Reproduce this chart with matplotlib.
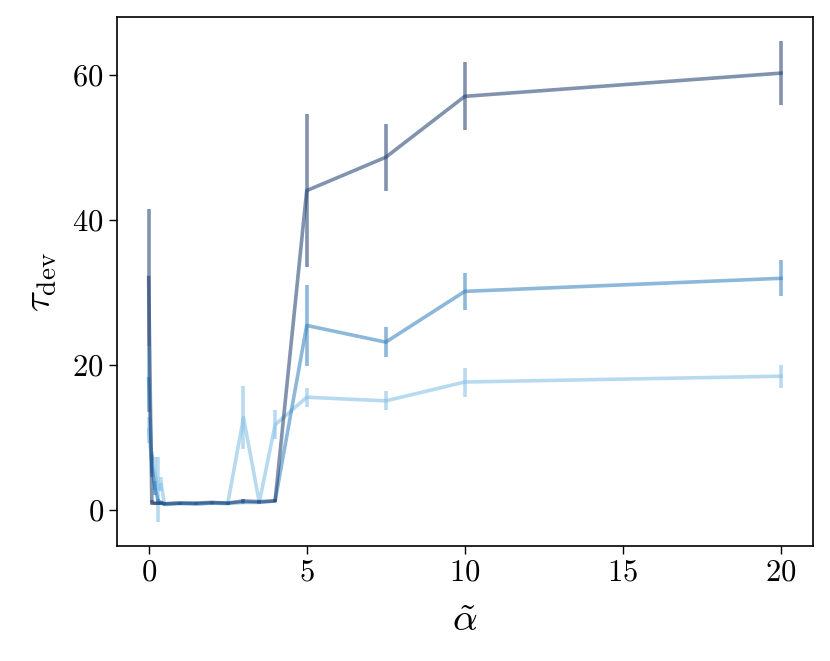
import matplotlib
matplotlib.use("Agg")
from matplotlib import pyplot as plt

plt.rcParams['font.family'] = 'serif'
plt.rcParams['font.serif'] = ['cmr10']
plt.rcParams['mathtext.fontset'] = 'cm'
plt.rcParams['axes.formatter.use_mathtext'] = True

alpha_vals = [0, 0.1, 0.2, 0.3, 0.4, 0.5, 1, 1.5, 2, 2.5, 3, 3.5, 4, 5, 7.5, 10, 20]

tau_dark = [32.0, 1.0, 0.9, 0.9, 0.9, 0.8, 0.9, 0.9, 1.0, 0.9, 1.2, 1.1, 1.2, 44.0, 48.6, 57.0, 60.2]
err_dark = [9.5, 0.3, 0.2, 0.2, 0.2, 0.2, 0.2, 0.2, 0.2, 0.2, 0.2, 0.2, 0.2, 10.6, 4.6, 4.7, 4.4]

tau_mid = [18.0, 6.0, 3.0, 1.2, 1.0, 0.8, 0.9, 0.8, 0.9, 0.9, 1.0, 1.0, 1.2, 25.4, 23.1, 30.1, 31.9]
err_mid = [4.5, 1.5, 1.0, 0.3, 0.2, 0.2, 0.2, 0.2, 0.2, 0.2, 0.2, 0.2, 0.2, 5.6, 2.1, 2.6, 2.5]

tau_light = [11.0, 6.5, 5.0, 2.8, 3.5, 0.7, 0.8, 0.8, 0.9, 0.8, 12.7, 1.0, 11.7, 15.5, 15.0, 17.6, 18.4]
err_light = [1.8, 1.5, 2.3, 4.5, 1.0, 0.2, 0.2, 0.2, 0.2, 0.2, 4.3, 0.2, 2.0, 1.3, 1.3, 2.0, 1.6]

fig = plt.figure(figsize=(8.3, 6.61), dpi=100)
ax = fig.add_axes([0.141, 0.174, 0.838, 0.8])

for y, e, c in [(tau_light, err_light, '#7fbde4'),
                (tau_mid, err_mid, '#2f7ebc'),
                (tau_dark, err_dark, '#1b3a6e')]:
    ax.errorbar(alpha_vals, y, yerr=e, color=c, alpha=0.55, lw=2.6, elinewidth=2.6, capsize=0)

ax.set_xticks([0, 5, 10, 15, 20])
ax.set_yticks([0, 20, 40, 60])
ax.tick_params(labelsize=22, length=6, width=1)
ax.set_xlabel(r'$\tilde{\alpha}$', fontsize=28, labelpad=12)
ax.set_ylabel(r'$\tau_{\mathrm{dev}}$', fontsize=28, labelpad=10)
for s in ax.spines.values():
    s.set_linewidth(1.2)

fig.savefig('out.png', dpi=100)
